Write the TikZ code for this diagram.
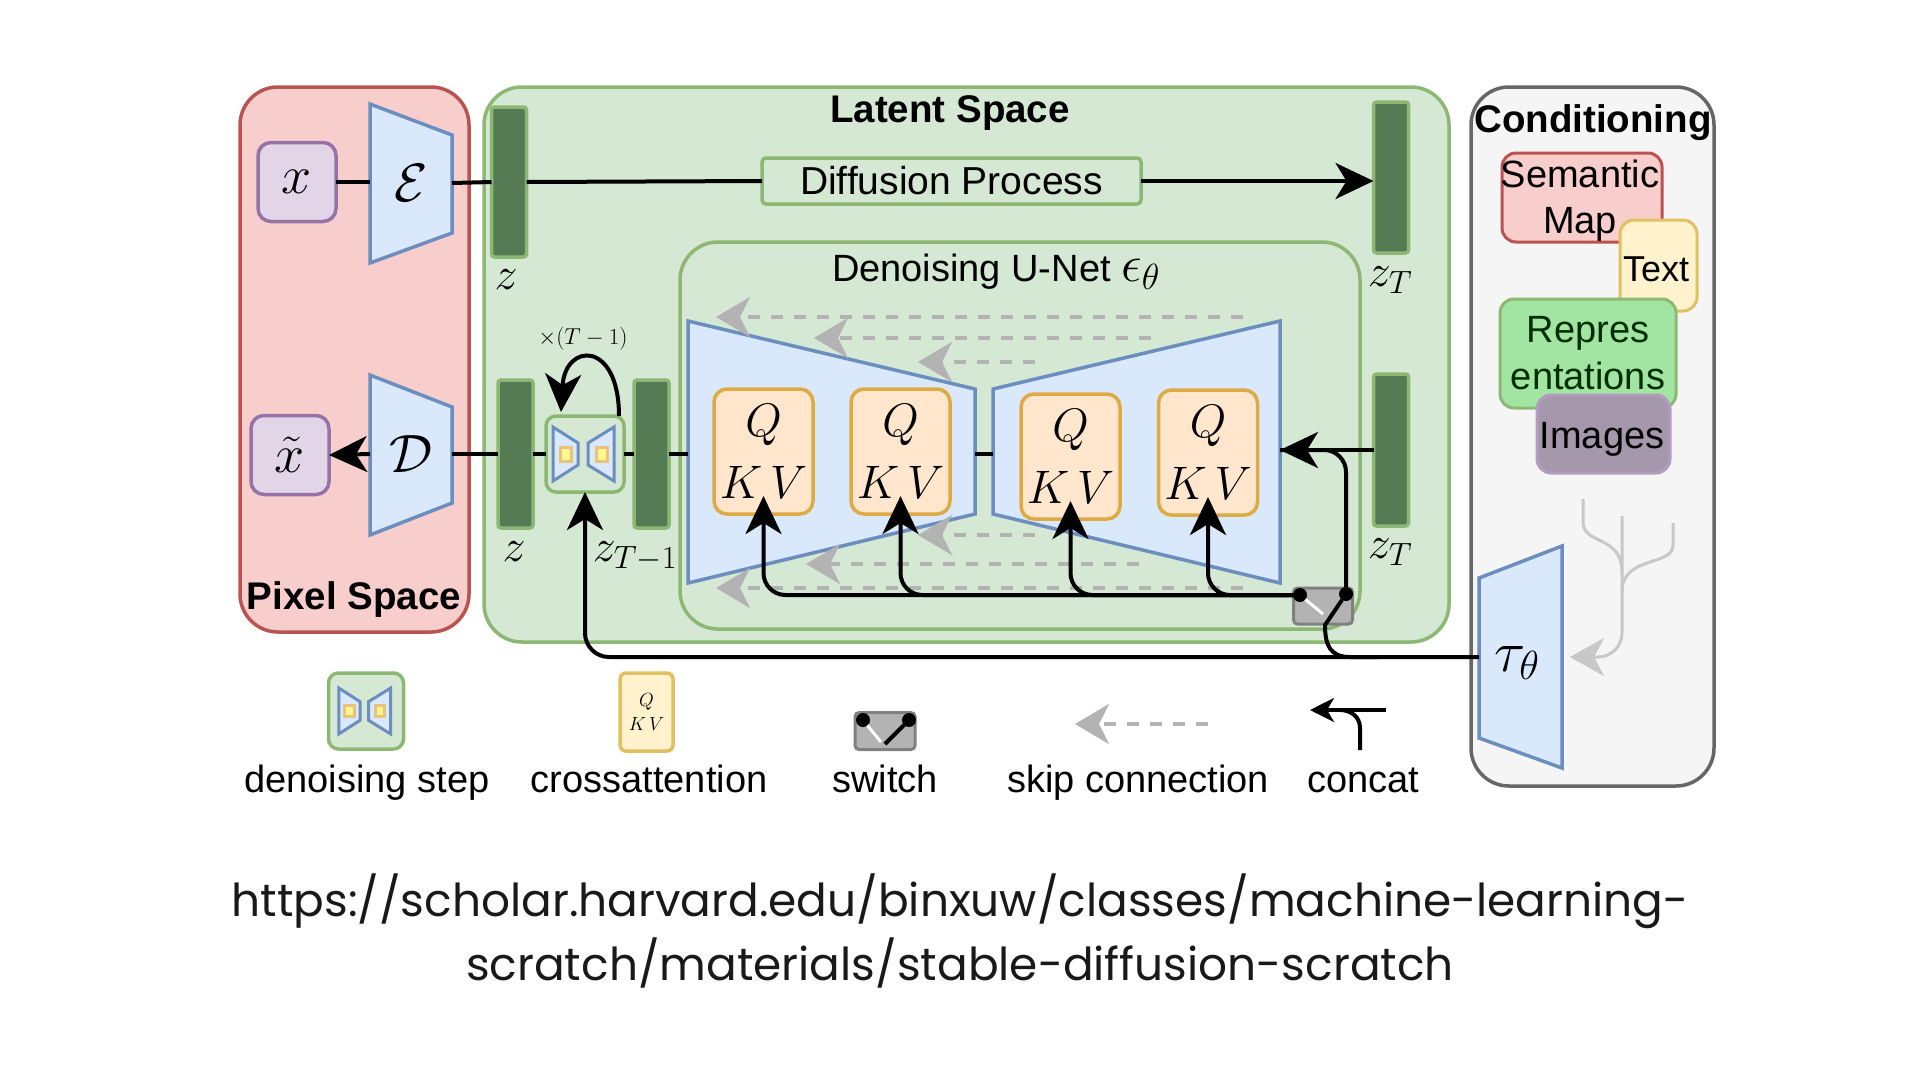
\RequirePackage{fix-cm}
\documentclass[tikz,border=0pt]{standalone}
\usepackage{amsmath,amssymb}
\usepackage{fontspec}
\usepackage{xcolor}
\usetikzlibrary{arrows.meta,calc}
\newfontfamily\diagfont{Liberation Sans}
\newfontfamily\urlfont{Poppins}
\definecolor{pixelfill}{HTML}{F8CECC}
\definecolor{pixelline}{HTML}{B85450}
\definecolor{latentfill}{HTML}{D5E8D4}
\definecolor{latentline}{HTML}{8DB873}
\definecolor{barfill}{HTML}{557B55}
\definecolor{trapfill}{HTML}{DAE8FC}
\definecolor{trapline}{HTML}{6C8EBF}
\definecolor{purplefill}{HTML}{E1D5E7}
\definecolor{purpleline}{HTML}{9673A6}
\definecolor{qkvfill}{HTML}{FFE6CC}
\definecolor{qkvline}{HTML}{DDAA44}
\definecolor{textfill}{HTML}{FFF2CC}
\definecolor{textline}{HTML}{E0C060}
\definecolor{condfill}{HTML}{F5F5F5}
\definecolor{condline}{HTML}{666666}
\definecolor{reprfill}{HTML}{A2E5A2}
\definecolor{imgfill}{HTML}{A598AC}
\definecolor{imgline}{HTML}{B39CC0}
\definecolor{switchfill}{HTML}{B3B3B3}
\definecolor{skipgray}{HTML}{B3B3B3}
\definecolor{treegray}{HTML}{C8C8C8}

\begin{document}
\begin{tikzpicture}[x=1pt,y=-1pt,
  every node/.style={inner sep=0pt,outer sep=0pt},
  sans/.style={font=\diagfont\fontsize{38}{46}\selectfont},
  sansbold/.style={font=\diagfont\bfseries\fontsize{38.5}{46}\selectfont},
  mathlabel/.style={font=\fontsize{46}{46}\selectfont},
  mathbig/.style={font=\fontsize{54}{54}\selectfont},
  region/.style={draw,line width=3.5pt,rounded corners=38pt},
  smallbox/.style={draw=purpleline,fill=purplefill,line width=3.5pt,rounded corners=13pt},
  latentbar/.style={draw=latentline,fill=barfill,line width=3.5pt,rounded corners=3pt,minimum width=35pt,minimum height=148pt},
  trapshape/.style={draw=trapline,fill=trapfill,line width=3.5pt,line join=miter},
  qkvbox/.style={draw=qkvline,fill=qkvfill,line width=3.5pt,rounded corners=13pt,minimum width=99pt,minimum height=125pt,align=center,font=\fontsize{47}{62}\selectfont},
  stepbox/.style={draw=latentline,fill=latentfill,line width=3.5pt,rounded corners=10pt},
  condbox/.style={line width=3pt,rounded corners=14pt,align=center,font=\diagfont\fontsize{38}{47}\selectfont},
  switchbox/.style={draw=black!50,fill=switchfill,line width=3pt,rounded corners=4pt},
  switchdot/.style={circle,fill=black,minimum size=14pt},
  legendlabel/.style={sans,anchor=base},
  conn/.style={line width=4pt,black},
  arr/.style={conn,-{Stealth[length=38pt,width=36pt,inset=11pt]}},
  smallarr/.style={conn,-{Stealth[length=24pt,width=24pt,inset=7pt]}},
  skiparrow/.style={skipgray,line width=4pt,dash pattern=on 12pt off 11pt,-{Stealth[length=34pt,width=40pt,inset=10pt]}},
  treeline/.style={treegray,line width=3pt},
  stepicon/.pic={
    \draw[trapshape,line width=3pt] (-32,-27) -- (-7,-11) -- (-7,11) -- (-32,27) -- cycle;
    \draw[trapshape,line width=3pt] (29,-27) -- (3,-11) -- (3,11) -- (29,27) -- cycle;
    \draw[fill=textfill!70!yellow,draw=qkvline!70,line width=3pt] (-25,-7) rectangle (-14,7);
    \draw[fill=textfill!70!yellow,draw=qkvline!70,line width=3pt] (11,-7) rectangle (22,7);
  }]
\useasboundingbox[fill=white] (0,0) rectangle (1920,1080);

% regions
\node[region,draw=pixelline,fill=pixelfill,minimum width=229pt,minimum height=545pt] (pixel) at (354.5,359.5) {};
\node[region,draw=latentline,fill=latentfill,minimum width=965pt,minimum height=555pt] (latent) at (966.5,364.5) {};
\node[region,draw=condline,fill=condfill,minimum width=243pt,minimum height=699pt] (cond) at (1592.5,436.5) {};
\node[region,draw=latentline,fill=latentfill,minimum width=680pt,minimum height=387pt] (unet) at (1020,435.5) {};
\node[sansbold] (pixeltitle) at (354,600) {Pixel Space};
\node[sansbold] (latenttitle) at (950,113) {Latent Space};
\node[sansbold] (condtitle) at (1593,123) {Conditioning};
\node[sans] (unettitle) at (996,272) {Denoising U-Net {\fontsize{52}{52}\selectfont$\epsilon_\theta$}};

% pixel space
\node[smallbox,minimum width=78pt,minimum height=79pt,mathbig] (x) at (297,182) {$x$};
\node[smallbox,minimum width=78pt,minimum height=79pt,mathbig] (xt) at (290,455) {$\tilde{x}$};
\draw[trapshape] (370,104) -- (452,135) -- (452,233) -- (370,263) -- cycle;
\node[minimum width=82pt,mathbig] (enc) at (411,183) {$\mathcal{E}$};
\draw[trapshape] (370,375) -- (452,407) -- (452,503) -- (370,535) -- cycle;
\node[minimum width=82pt,mathbig] (dec) at (411,454) {$\mathcal{D}$};

% latent bars
\node[latentbar,minimum height=150pt] (zin) at (509,182) {};
\node[mathlabel] (zinlabel) at (506,280) {$z$};
\node[latentbar] (zout) at (515.5,454) {};
\node[mathlabel] (zoutlabel) at (514,552) {$z$};
\node[latentbar] (zprev) at (651.5,454) {};
\node[mathlabel] (zprevlabel) at (635,556) {$z_{T-1}$};
\node[latentbar,minimum height=151pt] (zta) at (1391,177.5) {};
\node[mathlabel] (ztalabel) at (1390,280) {$z_T$};
\node[latentbar,minimum height=152pt] (ztb) at (1391,450) {};
\node[mathlabel] (ztblabel) at (1390,552) {$z_T$};

% diffusion
\node[draw=latentline,fill=latentfill,line width=3.5pt,rounded corners=4pt,minimum width=379pt,minimum height=46pt,font=\diagfont\fontsize{39}{46}\selectfont] (diff) at (951.5,181) {Diffusion Process};

% u-net
\draw[trapshape] (688,321) -- (975,389) -- (975,514) -- (688,583) -- cycle;
\node[minimum width=287pt,minimum height=20pt] (enctrap) at (831.5,454) {};
\draw[trapshape] (993,389) -- (1280,321) -- (1280,583) -- (993,514) -- cycle;
\node[minimum width=287pt,minimum height=20pt] (dectrap) at (1136.5,450) {};
\node[qkvbox] (qa) at (763.5,451.5) {$Q$\\$K\,V$};
\node[qkvbox] (qb) at (900.5,451.5) {$Q$\\$K\,V$};
\node[qkvbox] (qc) at (1070.5,456.5) {$Q$\\$K\,V$};
\node[qkvbox] (qd) at (1208,452.5) {$Q$\\$K\,V$};

% skip connections
\coordinate (skaR) at (1243,317); \coordinate (skaL) at (716,317);
\coordinate (skbR) at (1151,338); \coordinate (skbL) at (814,338);
\coordinate (skcR) at (1035,362); \coordinate (skcL) at (918,362);
\coordinate (skdR) at (1035,535); \coordinate (skdL) at (918,535);
\coordinate (skeR) at (1139,564); \coordinate (skeL) at (806,564);
\coordinate (skfR) at (1243,588); \coordinate (skfL) at (716,588);
\draw[skiparrow] (skaR) -- (skaL);
\draw[skiparrow] (skbR) -- (skbL);
\draw[skiparrow] (skcR) -- (skcL);
\draw[skiparrow] (skdR) -- (skdL);
\draw[skiparrow] (skeR) -- (skeL);
\draw[skiparrow] (skfR) -- (skfL);

% denoising step
\node[stepbox,minimum width=78pt,minimum height=76pt] (step) at (585,454) {};
\pic at (step) {stepicon};
\node[font=\fontsize{23}{23}\selectfont] (looplabel) at (583,339) {$\times(T-1)$};

% switch
\node[switchbox,minimum width=59pt,minimum height=36pt] (switch) at (1323,606) {};
\node[switchdot] (swl) at (1300,595) {};
\node[switchdot] (swr) at (1346,594) {};
\draw[white,line width=3pt] (swl) -- (1323,614);

% conditioning boxes
\node[condbox,draw=pixelline,fill=pixelfill,minimum width=160pt,minimum height=89pt] (semantic) at (1582,197.5) {};
\node[font=\diagfont\fontsize{38}{46}\selectfont,align=center] (semantictext) at (1580,201) {Semantic\\Map};
\node[condbox,draw=textline,fill=textfill,minimum width=77pt,minimum height=91pt] (text) at (1658.5,265.5) {};
\node[font=\diagfont\fontsize{36}{46}\selectfont] (texttext) at (1656,269) {Text};
\node[condbox,draw=latentline,fill=reprfill,minimum width=176pt,minimum height=109pt,text=black!70!green!60!black] (repr) at (1588,353.5) {Repres\\entations};
\node[condbox,draw=imgline,fill=imgfill,minimum width=133pt,minimum height=78pt] (images) at (1603.5,434) {};
\node[sans] (imagestext) at (1602,439) {Images};
\draw[trapshape] (1479,578) -- (1562,546) -- (1562,768) -- (1479,738) -- cycle;
\node[minimum width=83pt,minimum height=10pt] (tau) at (1520.5,657) {};
\node[font=\fontsize{58}{58}\selectfont] (taulabel) at (1517,663) {$\tau_\theta$};

% tree
\coordinate (treea) at (1583,499);
\coordinate (treeb) at (1622,516);
\coordinate (treec) at (1673,523);
\draw[treeline] (treea) -- (1583,522) .. controls (1583,545) and (1622,535) .. (1622,572);
\draw[treeline] (treec) -- (1673,545) .. controls (1673,567) and (1622,555) .. (1622,592);
\draw[treeline,rounded corners=24pt,-{Stealth[length=34pt,width=38pt,inset=10pt]}] (treeb) |- ([xshift=8pt]tau.east);

% connectors
\draw[conn] (x) -- (x -| enc.west);
\draw[conn] (enc.east) -- (zin.west);
\draw[conn] (zin.east) -- (diff.west);
\draw[arr] (diff.east) -- (zta.west |- diff.east);
\draw[conn] (zout.west) -- (dec.east);
\draw[arr] (dec.west) -- (xt.east);
\draw[conn] (zout.east) -- (step.west);
\draw[conn] (step.east) -- (zprev.west);
\draw[conn] (zprev.east) -- (enctrap.west);
\draw[conn] (enctrap.east) -- (dectrap.west |- enctrap.east);
\draw[arr] (ztb.west) -- (dectrap.east);
\draw[conn,rounded corners=22pt] (swr) |- (dectrap.east);
\draw[arr,rounded corners=22pt] (swl) -| ([yshift=18pt]qa.south);
\draw[arr,rounded corners=22pt] (swl) -| ([yshift=18pt]qb.south);
\draw[arr,rounded corners=22pt] (swl) -| ([yshift=18pt]qc.south);
\draw[arr,rounded corners=22pt] (swl) -| ([yshift=18pt]qd.south);
\draw[arr,rounded corners=24pt] (tau.west) -| (step.south);
\coordinate (concatj) at (1378,657);
\draw[conn] (concatj) -- (1350,657) .. controls (1330,657) and (1325,645) .. (1325,625) -- (swr);
\draw[arr] ([xshift=34pt]step.north) .. controls (619,340) and (565,342) .. ([xshift=-24pt,yshift=4pt]step.north);

% legend
\node[stepbox,minimum width=75pt,minimum height=76pt] (legstep) at (366,711) {};
\pic[xscale=.85,yscale=.85] at (legstep) {stepicon};
\node[legendlabel] (legsteplabel) at (367,792) {denoising step};
\node[draw=textline,fill=textfill,line width=3.5pt,rounded corners=6pt,minimum width=53pt,minimum height=78pt,align=center,font=\fontsize{19}{24}\selectfont] (legqkv) at (646.5,712) {$Q$\\$K\,V$};
\node[legendlabel] (legqkvlabel) at (649,792) {crossattention};
\node[switchbox,minimum width=60pt,minimum height=37pt] (legswitch) at (885,731) {};
\node[switchdot] (legswl) at (863,720) {};
\node[switchdot] (legswr) at (909,720) {};
\draw[white,line width=3pt] (legswl) -- (881,742);
\draw[conn] (legswr) -- (885,744);
\node[legendlabel] (legswitchlabel) at (885,792) {switch};
\coordinate (legskipR) at (1208,724);
\coordinate (legskipL) at (1075,724);
\draw[skiparrow] (legskipR) -- (legskipL);
\node[legendlabel] (legskiplabel) at (1138,792) {skip connection};
\coordinate (legconcatR) at (1386,710);
\coordinate (legconcatL) at (1310,710);
\coordinate (legconcatB) at (1360,750);
\draw[smallarr] (legconcatR) -- (legconcatL);
\draw[conn] (legconcatB) -- (1360,728) .. controls (1360,716) and (1350,710) .. (1340,710);
\node[legendlabel] (legconcatlabel) at (1363,792) {concat};

% source
\node[font=\urlfont\fontsize{45.4}{64}\selectfont,align=center,text=black!90] (source) at (960,931) {https://scholar.harvard.edu/binxuw/classes/machine-learning-\\scratch/materials/stable-diffusion-scratch};
\end{tikzpicture}
\end{document}
